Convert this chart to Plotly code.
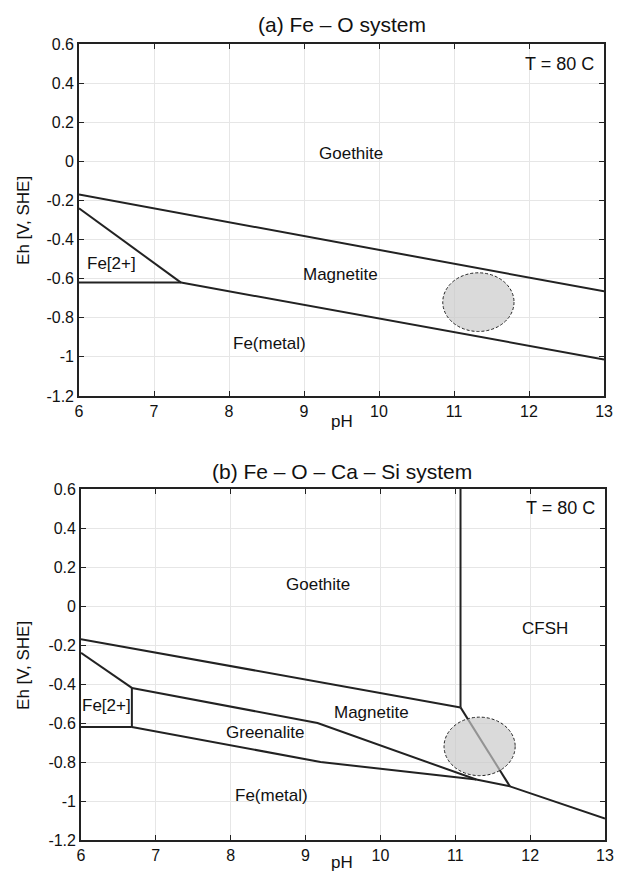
import plotly.graph_objects as go

# ---------------- data ----------------
x_ticks = [6, 7, 8, 9, 10, 11, 12, 13]
x_ticklabels = ["6", "7", "8", "9", "10", "11", "12", "13"]
y_ticks = [0.6, 0.4, 0.2, 0, -0.2, -0.4, -0.6, -0.8, -1.0, -1.2]
y_ticklabels = ["0.6", "0.4", "0.2", "0", "-0.2", "-0.4", "-0.6", "-0.8", "-1", "-1.2"]

# (a) Fe - O system boundaries
a_goe_mag_ph = [6, 13]
a_goe_mag_eh = [-0.17, -0.665]
a_fe2_mag_ph = [6, 7.36]
a_fe2_mag_eh = [-0.24, -0.62]
a_fe2_fe_ph = [6, 7.36]
a_fe2_fe_eh = [-0.62, -0.62]
a_mag_fe_ph = [7.36, 13]
a_mag_fe_eh = [-0.62, -1.013]

a_label_text = ["Goethite", "Magnetite", "Fe[2+]", "Fe(metal)"]
a_label_ph = [9.62, 9.49, 6.43, 8.54]
a_label_eh = [0.04, -0.58, -0.52, -0.93]

# (b) Fe - O - Ca - Si system boundaries
b_goe_mag_ph = [6, 11.07]
b_goe_mag_eh = [-0.17, -0.52]
b_goe_cfsh_ph = [11.07, 11.07]
b_goe_cfsh_eh = [-0.52, 0.6]
b_mag_cfsh_ph = [11.07, 11.73]
b_mag_cfsh_eh = [-0.52, -0.925]
b_fe2_goe_ph = [6, 6.68]
b_fe2_goe_eh = [-0.24, -0.42]
b_fe2_gre_ph = [6.68, 6.68]
b_fe2_gre_eh = [-0.42, -0.62]
b_fe2_fe_ph = [6, 6.68]
b_fe2_fe_eh = [-0.62, -0.62]
b_gre_mag_ph = [6.68, 9.16, 11.28]
b_gre_mag_eh = [-0.42, -0.60, -0.89]
b_fe_low_ph = [6.68, 9.2, 11.28, 11.73, 13]
b_fe_low_eh = [-0.62, -0.80, -0.89, -0.925, -1.09]

b_label_text = ["Goethite", "CFSH", "Magnetite", "Greenalite", "Fe[2+]", "Fe(metal)"]
b_label_ph = [9.16, 12.2, 9.88, 8.46, 6.34, 8.55]
b_label_eh = [0.11, -0.115, -0.545, -0.65, -0.51, -0.97]

# experimental region (ellipse) in both panels
ell_ph = [10.85, 11.8]
ell_eh = [-0.87, -0.57]

temp_text = "T = 80 C"
temp_ph = 12.4
temp_eh = 0.50

titles = ["(a) Fe \u2013 O system", "(b) Fe \u2013 O \u2013 Ca \u2013 Si system"]

# ---------------- figure ----------------
FONT = "Liberation Sans, Arial, Helvetica, sans-serif"
LINE = dict(color="#222222", width=2)

fig = go.Figure()

def add_lines(pairs, xa, ya):
    for ph, eh in pairs:
        fig.add_trace(go.Scatter(x=ph, y=eh, mode="lines", line=LINE,
                                 xaxis=xa, yaxis=ya, showlegend=False,
                                 hoverinfo="skip"))

add_lines([(a_goe_mag_ph, a_goe_mag_eh), (a_fe2_mag_ph, a_fe2_mag_eh),
           (a_fe2_fe_ph, a_fe2_fe_eh), (a_mag_fe_ph, a_mag_fe_eh)], "x", "y")
add_lines([(b_goe_mag_ph, b_goe_mag_eh), (b_goe_cfsh_ph, b_goe_cfsh_eh),
           (b_mag_cfsh_ph, b_mag_cfsh_eh), (b_fe2_goe_ph, b_fe2_goe_eh),
           (b_fe2_gre_ph, b_fe2_gre_eh), (b_fe2_fe_ph, b_fe2_fe_eh),
           (b_gre_mag_ph, b_gre_mag_eh), (b_fe_low_ph, b_fe_low_eh)], "x2", "y2")

# layout geometry
L, R, T, B = 79, 8, 44, 35
W, H = 622, 875
plot_h = H - T - B
plot_w = W - L - R
def ypaper(px):
    return 1 - (px - T) / plot_h

axis_common = dict(
    showline=True, linecolor="#222222", linewidth=1.6, mirror="ticks",
    ticks="inside", ticklen=5, tickcolor="#222222",
    showgrid=True, gridcolor="#e6e6e6", gridwidth=1, zeroline=False,
    tickfont=dict(family=FONT, size=16, color="#111111"),
)

fig.update_layout(
    width=W, height=H,
    margin=dict(l=L, r=R, t=T, b=B),
    paper_bgcolor="white", plot_bgcolor="white",
    font=dict(family=FONT, color="#111111"),
    showlegend=False,
    xaxis=dict(domain=[0, (plot_w - 1) / plot_w], range=[6, 13], tickvals=x_ticks,
               ticktext=x_ticklabels, anchor="y", **axis_common),
    yaxis=dict(domain=[ypaper(396), 1], range=[-1.2, 0.6], tickvals=y_ticks,
               ticktext=y_ticklabels, anchor="x", **axis_common),
    xaxis2=dict(domain=[2 / plot_w, 1], range=[6, 13], tickvals=x_ticks,
                ticktext=x_ticklabels, anchor="y2", **axis_common),
    yaxis2=dict(domain=[0, ypaper(489)], range=[-1.2, 0.6], tickvals=y_ticks,
                ticktext=y_ticklabels, anchor="x2", **axis_common),
)

for xr, yr in [("x", "y"), ("x2", "y2")]:
    fig.add_shape(type="circle", xref=xr, yref=yr,
                  x0=ell_ph[0], x1=ell_ph[1], y0=ell_eh[0], y1=ell_eh[1],
                  fillcolor="rgba(200,200,200,0.68)",
                  line=dict(color="#222222", width=1, dash="3px,2px"), layer="above")

ann = []
for t, px, py in zip(a_label_text, a_label_ph, a_label_eh):
    ann.append(dict(text=t, x=px, y=py, xref="x", yref="y", showarrow=False,
                    font=dict(size=17)))
for t, px, py in zip(b_label_text, b_label_ph, b_label_eh):
    ann.append(dict(text=t, x=px, y=py, xref="x2", yref="y2", showarrow=False,
                    font=dict(size=17)))
for xr, yr in [("x", "y"), ("x2", "y2")]:
    ann.append(dict(text=temp_text, x=temp_ph, y=temp_eh, xref=xr, yref=yr,
                    showarrow=False, font=dict(size=18)))

# titles and axis titles
xc = 0.5 * (79 + 613 - 2 * L) / plot_w
ann.append(dict(text=titles[0], x=xc, y=ypaper(25), xref="paper", yref="paper",
                yanchor="middle", showarrow=False, font=dict(size=21)))
ann.append(dict(text=titles[1], x=xc, y=ypaper(471), xref="paper", yref="paper",
                yanchor="middle", showarrow=False, font=dict(size=21)))
for ypx in (421, 862):
    ann.append(dict(text="pH", x=xc, y=ypaper(ypx), xref="paper", yref="paper",
                    yanchor="middle", showarrow=False, font=dict(size=17)))
for ypx in (220, 665):
    ann.append(dict(text="Eh [V, SHE]", x=(22 - L) / plot_w, y=ypaper(ypx),
                    xref="paper", yref="paper", showarrow=False, textangle=-90,
                    xanchor="center", yanchor="middle", font=dict(size=17)))
fig.update_layout(annotations=ann)

fig.write_html("out.html")
